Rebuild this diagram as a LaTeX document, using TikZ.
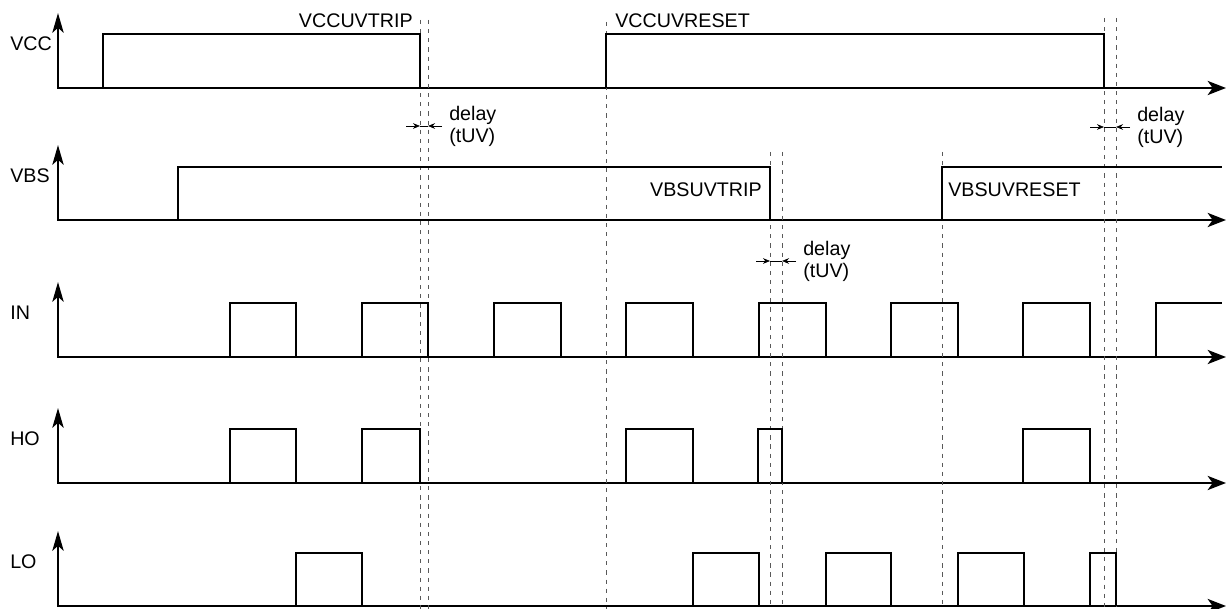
\documentclass[tikz,border=0pt]{standalone}
\usepackage{fontspec}
\setmainfont{Liberation Sans}
\usetikzlibrary{arrows.meta}

\begin{document}
\begin{tikzpicture}[
  x=0.025cm, y=-0.025cm,
  axis/.style={line width=1.9pt},
  yax/.style={axis, -{Stealth[length=14pt, width=8pt, inset=3.5pt]}},
  xax/.style={axis, -{Stealth[length=13pt, width=10pt, inset=3.5pt]}},
  sig/.style={line width=1.4pt, line join=miter},
  guide/.style={black!65, line width=0.7pt, dash pattern=on 3pt off 3.5pt},
  dly/.style={line width=0.5pt, -{Stealth[length=5pt, width=4pt]}},
  sigtxt/.style={font=\fontsize{14}{15.6}\selectfont, inner sep=0pt},
  note/.style={sigtxt, align=left, anchor=west}
]
\useasboundingbox (0,0) rectangle (1228,609);

% axes
\foreach \base/\txt in {88/VCC, 220/VBS, 357/IN, 483/HO, 606/LO} {
  \draw[yax] (58,\base) -- (58,\base-75);
  \draw[xax] (57,\base) -- (1226,\base);
  \node[sigtxt, anchor=west] (lbl\txt) at (10,\base-44) {\txt};
}

% guide lines
\foreach \gx/\gy in {420/20, 428/20, 606/22, 770/152, 782/152, 942/152, 1104/18, 1116/18}
  \draw[guide] (\gx,\gy) -- (\gx,609);

% VCC
\foreach \a/\b in {103/420, 606/1104}
  \draw[sig] (\a,88) -- (\a,34) -- (\b,34) -- (\b,88);
% VBS
\draw[sig] (178,220) -- (178,167) -- (770,167) -- (770,220);
\draw[sig] (942,220) -- (942,167) -- (1222,167);
% IN
\foreach \a/\b in {230/296, 362/428, 494/561, 626/693, 759/826, 891/958, 1023/1090}
  \draw[sig] (\a,357) -- (\a,303) -- (\b,303) -- (\b,357);
\draw[sig] (1156,357) -- (1156,303) -- (1222,303);
% HO
\foreach \a/\b in {230/296, 362/420, 626/693, 758/782, 1023/1090}
  \draw[sig] (\a,483) -- (\a,429) -- (\b,429) -- (\b,483);
% LO
\foreach \a/\b in {296/362, 693/759, 826/891, 958/1024, 1090/1116}
  \draw[sig] (\a,606) -- (\a,553) -- (\b,553) -- (\b,606);

% threshold labels
\node[sigtxt, anchor=east] (vcctrip) at (413,21) {VCCUVTRIP};
\node[sigtxt, anchor=west] (vccreset) at (615,21) {VCCUVRESET};
\node[sigtxt, anchor=east] (vbstrip) at (762,190) {VBSUVTRIP};
\node[sigtxt, anchor=west] (vbsreset) at (948,190) {VBSUVRESET};

% delays
\foreach \l/\r/\dy/\n in {420/428/126/a, 770/782/261/b, 1104/1116/127/c} {
  \draw[dly] (\l-14,\dy) -- (\l,\dy);
  \draw[dly] (\r+14,\dy) -- (\r,\dy);
  \draw[line width=0.5pt] (\l,\dy) -- (\r,\dy);
  \node[note] (delay\n) at (\r+21,\dy) {delay\\(tUV)};
}
\end{tikzpicture}
\end{document}
